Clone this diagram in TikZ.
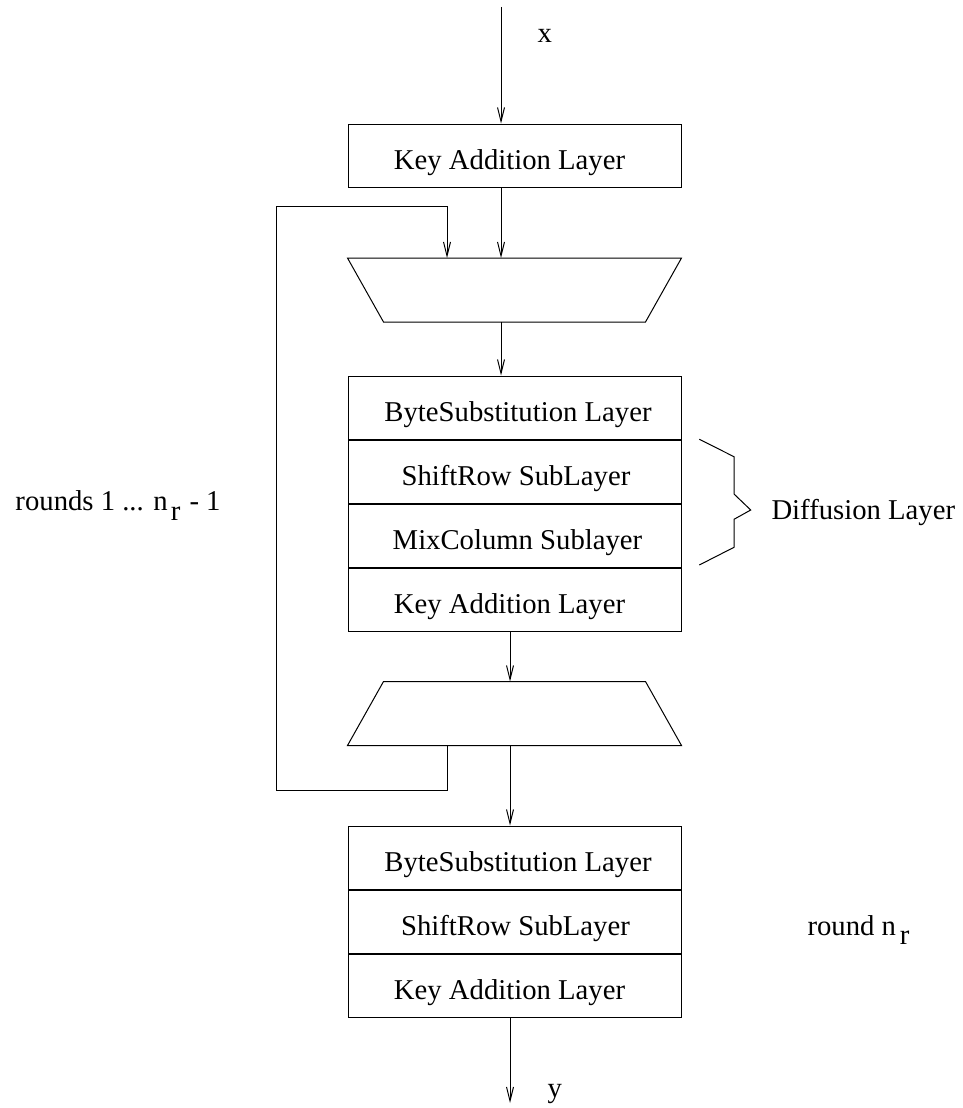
\documentclass[tikz,border=0pt]{standalone}
\usepackage{fontspec}
\setmainfont{Liberation Serif}
\usetikzlibrary{arrows.meta,calc}
\begin{document}
\begin{tikzpicture}[x=1pt,y=-1pt,
  line width=1pt,
  every node/.style={font=\fontsize{28.7}{34}\selectfont},
  layer/.style={draw, minimum width=333pt, minimum height=63pt, inner sep=0pt,
                text height=33pt, text depth=6pt},
  ghost/.style={minimum width=333pt, minimum height=63pt, inner sep=0pt},
  lbl/.style={inner sep=0pt, anchor=base west},
  conn/.style={-{Straight Barb[length=14pt,width=7pt,line width=1pt]}}]
\useasboundingbox (0,0) rectangle (963,1108);

% top key addition
\node[layer] (ka) at (514.5,155.5) {\hspace*{-10pt}Key Addition Layer};

% upper trapezoid (wide top)
\node[ghost] (tz1) at (514.5,290) {};
\draw (tz1.north west) -- (tz1.north east) -- ($(tz1.south east)+(-36,0)$)
      -- ($(tz1.south west)+(36,0)$) -- cycle;

% main round block
\node[layer] (b1) at (514.5,407.5) {\hspace*{7pt}ByteSubstitution Layer};
\node[layer, anchor=north] (b2) at (b1.south) {\hspace*{3pt}ShiftRow SubLayer};
\node[layer, anchor=north] (b3) at (b2.south) {\hspace*{6pt}MixColumn Sublayer};
\node[layer, anchor=north] (b4) at (b3.south) {\hspace*{-10pt}Key Addition Layer};

% lower trapezoid (wide bottom)
\node[ghost] (tz2) at (514.5,713.5) {};
\draw ($(tz2.north west)+(36,0)$) -- ($(tz2.north east)+(-36,0)$)
      -- (tz2.south east) -- (tz2.south west) -- cycle;

% final round block
\node[layer] (c1) at (514.5,857.5) {\hspace*{7pt}ByteSubstitution Layer};
\node[layer, anchor=north] (c2) at (c1.south) {\hspace*{2pt}ShiftRow SubLayer};
\node[layer, anchor=north] (c3) at (c2.south) {\hspace*{-10pt}Key Addition Layer};

% labels
\node[lbl] (xl) at (537,43) {x};
\node[lbl] (yl) at (547,1097) {y};
\node[lbl] (rl) at (15,510.7) {rounds 1 ... n\kern3pt\raisebox{-9.5pt}{r}\kern2pt{} - 1};
\node[lbl] (fl) at (807,935) {round n\kern4pt\raisebox{-9.5pt}{r}};
\node[lbl] (dl) at (771,519) {Diffusion Layer};

% connector coordinates
\coordinate (in) at (501,7);
\coordinate (out) at (510,1103);
\coordinate (fbx) at (447,0);
\coordinate (fbl) at (276,0);
\coordinate (fbtop) at (0,206);
\coordinate (fbbot) at (0,790);

% vertical flow
\draw[conn] (in) -- (in |- ka.north);
\draw[conn] (in |- ka.south) -- (in |- tz1.north);
\draw[conn] (in |- tz1.south) -- (in |- b1.north);
\draw[conn] (out |- b4.south) -- (out |- tz2.north);
\draw[conn] (out |- tz2.south) -- (out |- c1.north);
\draw[conn] (out |- c3.south) -- (out);

% feedback loop
\draw[conn] (fbx |- tz2.south) -- (fbx |- fbbot) -- (fbl |- fbbot)
      -- (fbl |- fbtop) -- (fbx |- fbtop) -- (fbx |- tz1.north);

% brace
\coordinate (br) at (699.3,439.3);
\draw (br) -- ++(34.7,17.4) -- (734,494) -- (750.7,510) -- (734,519.3)
      -- (734,547.3) -- (699.3,565);
\end{tikzpicture}
\end{document}
